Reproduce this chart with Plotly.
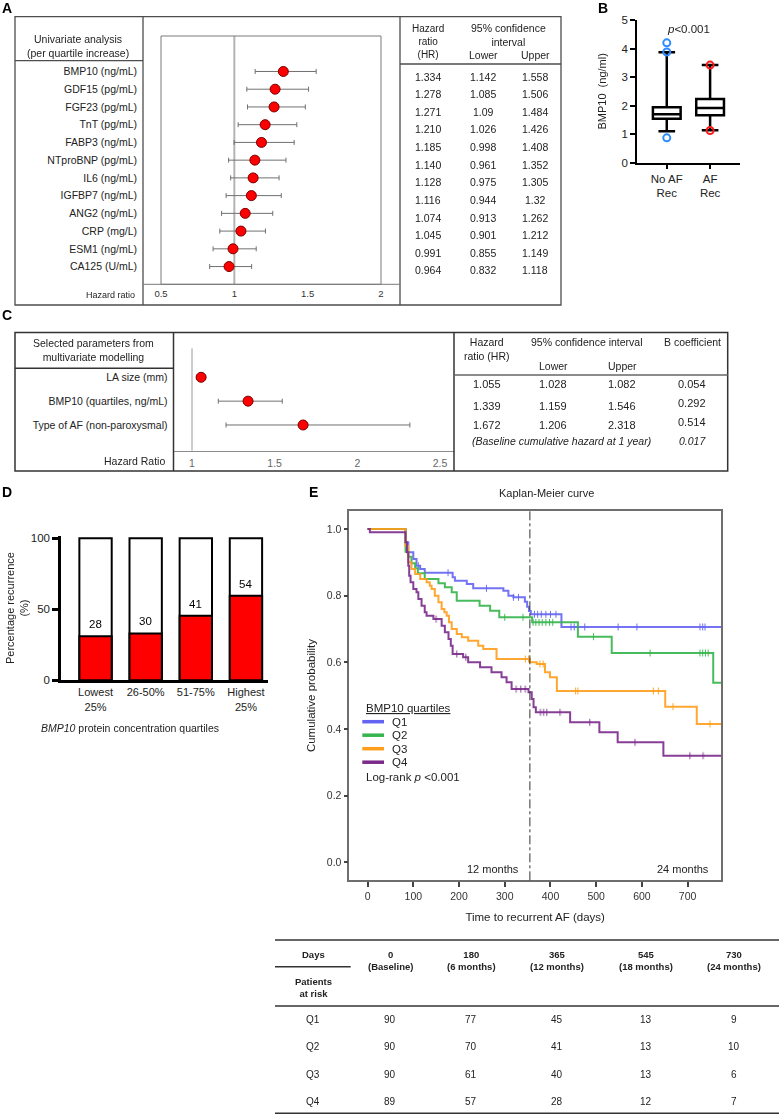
import plotly.graph_objects as go

# =============================================================================
# Data
# =============================================================================
# A: univariate analysis (per quartile increase)
uni_markers = ["BMP10 (ng/mL)", "GDF15 (pg/mL)", "FGF23 (pg/mL)", "TnT (pg/mL)",
               "FABP3 (ng/mL)", "NTproBNP (pg/mL)", "IL6 (ng/mL)", "IGFBP7 (ng/mL)",
               "ANG2 (ng/mL)", "CRP (mg/L)", "ESM1 (ng/mL)", "CA125 (U/mL)"]
uni_hr = ["1.334", "1.278", "1.271", "1.210", "1.185", "1.140",
          "1.128", "1.116", "1.074", "1.045", "0.991", "0.964"]
uni_lower = ["1.142", "1.085", "1.09", "1.026", "0.998", "0.961",
             "0.975", "0.944", "0.913", "0.901", "0.855", "0.832"]
uni_upper = ["1.558", "1.506", "1.484", "1.426", "1.408", "1.352",
             "1.305", "1.32", "1.262", "1.212", "1.149", "1.118"]
uni_ticks = [0.5, 1, 1.5, 2]

# B: BMP10 by AF recurrence (box summary)
box_groups = ["No AF<br>Rec", "AF<br>Rec"]
box_q1 = [1.54, 1.66]
box_median = [1.70, 1.92]
box_q3 = [1.94, 2.23]
box_low = [1.10, 1.14]
box_high = [3.87, 3.42]
outliers_no_rec = [4.20, 3.88, 0.87]
outliers_rec = [3.42, 1.13]

# C: multivariate model
multi_params = ["LA size (mm)", "BMP10 (quartiles, ng/mL)", "Type of AF (non-paroxysmal)"]
multi_hr = ["1.055", "1.339", "1.672"]
multi_lower = ["1.028", "1.159", "1.206"]
multi_upper = ["1.082", "1.546", "2.318"]
multi_b = ["0.054", "0.292", "0.514"]
baseline_hazard = "0.017"
multi_ticks = [1, 1.5, 2, 2.5]

# D: recurrence by BMP10 quartile
quartile_labels = ["Lowest<br>25%", "26-50%", "51-75%", "Highest<br>25%"]
recurrence_pct = [31, 33, 45.5, 59.5]
recurrence_n = [28, 30, 41, 54]

# E: Kaplan-Meier curves (step points, days / cumulative probability)
km_names = ["Q1", "Q2", "Q3", "Q4"]
km_colors = ["#6464f2", "#35b54c", "#ff9e1b", "#7a2a8b"]

q1_t = [0, 83, 89, 100, 107, 115, 125, 186, 191, 217, 231, 297, 308, 319, 344, 349, 353, 357, 424, 773]
q1_s = [1.0, 0.96, 0.93, 0.91, 0.89, 0.88, 0.869, 0.855, 0.845, 0.835, 0.822, 0.815, 0.80, 0.795,
        0.782, 0.767, 0.754, 0.744, 0.706, 0.706]
q2_t = [0, 83, 89, 96, 104, 110, 125, 155, 169, 184, 195, 245, 268, 288, 360, 460, 534, 756, 773]
q2_s = [1.0, 0.932, 0.917, 0.897, 0.882, 0.867, 0.85, 0.837, 0.825, 0.81, 0.785, 0.77, 0.755,
        0.735, 0.72, 0.677, 0.628, 0.539, 0.539]
q3_t = [0, 83, 89, 96, 104, 115, 129, 136, 140, 147, 155, 162, 168, 173, 178, 184, 195, 206, 220,
        242, 253, 282, 355, 370, 388, 399, 414, 651, 720, 773]
q3_s = [1.0, 0.95, 0.90, 0.88, 0.865, 0.85, 0.84, 0.83, 0.82, 0.80, 0.78, 0.76, 0.75, 0.74, 0.72,
        0.70, 0.685, 0.675, 0.665, 0.65, 0.64, 0.61, 0.60, 0.595, 0.57, 0.555, 0.514, 0.467, 0.415, 0.415]
q4_t = [0, 5, 83, 86, 89, 91, 94, 100, 107, 111, 118, 125, 129, 144, 162, 169, 177, 182, 186, 209,
        220, 246, 271, 293, 304, 315, 352, 359, 363, 368, 443, 507, 547, 647, 773]
q4_s = [1.0, 0.99, 0.96, 0.93, 0.89, 0.86, 0.84, 0.82, 0.81, 0.79, 0.77, 0.75, 0.74, 0.73, 0.71,
        0.69, 0.67, 0.65, 0.625, 0.615, 0.60, 0.585, 0.57, 0.555, 0.54, 0.52, 0.51, 0.49, 0.465,
        0.45, 0.42, 0.39, 0.36, 0.32, 0.32]

# censored observations
q1_ct = [111, 176, 260, 319, 330, 365, 372, 380, 390, 400, 412, 445, 452, 475, 548, 589, 727, 733, 738]
q1_cs = [0.89, 0.869, 0.822, 0.795, 0.795, 0.744, 0.744, 0.744, 0.744, 0.744, 0.744, 0.706, 0.706,
         0.706, 0.706, 0.706, 0.706, 0.706, 0.706]
q2_ct = [300, 340, 362, 368, 375, 382, 390, 398, 405, 494, 618, 727, 733, 739, 745]
q2_cs = [0.735, 0.735, 0.72, 0.72, 0.72, 0.72, 0.72, 0.72, 0.72, 0.677, 0.628, 0.628, 0.628, 0.628, 0.628]
q3_ct = [345, 352, 377, 384, 455, 460, 625, 636, 668, 749]
q3_cs = [0.61, 0.61, 0.595, 0.595, 0.514, 0.514, 0.514, 0.514, 0.467, 0.415]
q4_ct = [150, 195, 215, 325, 335, 345, 378, 385, 392, 421, 486, 585, 705, 734]
q4_cs = [0.73, 0.625, 0.615, 0.52, 0.52, 0.52, 0.45, 0.45, 0.45, 0.45, 0.42, 0.36, 0.32, 0.32]

km_ticks = [0, 100, 200, 300, 400, 500, 600, 700]
month_12_day = 355

# E: patients at risk
risk_days = ["0", "180", "365", "545", "730"]
risk_periods = ["(Baseline)", "(6 months)", "(12 months)", "(18 months)", "(24 months)"]
risk_q1 = [90, 77, 45, 13, 9]
risk_q2 = [90, 70, 41, 13, 10]
risk_q3 = [90, 61, 40, 13, 6]
risk_q4 = [89, 57, 28, 12, 7]

# =============================================================================
# Helpers (pixel positions -> paper coordinates)
# =============================================================================
FONT = "Liberation Sans, Arial, sans-serif"
W, H = 779, 1115


def px(x):
    return x / W


def py(y):
    return 1 - y / H


shapes = []
annotations = []


def line(x0, y0, x1, y1, color="#4d4d4d", width=1.3):
    shapes.append(dict(type="line", xref="paper", yref="paper",
                       x0=px(x0), y0=py(y0), x1=px(x1), y1=py(y1),
                       line=dict(color=color, width=width)))


def rect(x0, y0, x1, y1, color="#4d4d4d", width=1.3):
    shapes.append(dict(type="rect", xref="paper", yref="paper",
                       x0=px(x0), y0=py(y0), x1=px(x1), y1=py(y1),
                       line=dict(color=color, width=width)))


def label(x, y, text, size=10.5, anchor="center", color="#222", **kw):
    annotations.append(dict(xref="paper", yref="paper", x=px(x), y=py(y), text=text,
                            showarrow=False, xanchor=anchor, yanchor="middle",
                            align="left" if anchor == "left" else "center",
                            font=dict(family=FONT, size=size, color=color), **kw))


fig = go.Figure()

# =============================================================================
# Panel A: forest plot + table
# =============================================================================
hr_a = [float(v) for v in uni_hr]
lo_a = [float(v) for v in uni_lower]
hi_a = [float(v) for v in uni_upper]
rows_a = list(range(len(uni_markers)))

fig.add_trace(go.Scatter(
    x=hr_a, y=rows_a, mode="markers", xaxis="x", yaxis="y",
    marker=dict(size=10, color="#ff0000", line=dict(color="#7a0000", width=1)),
    error_x=dict(type="data", symmetric=False,
                 array=[h - v for v, h in zip(hr_a, hi_a)],
                 arrayminus=[v - l for v, l in zip(hr_a, lo_a)],
                 color="#707070", thickness=1, width=2.5),
))
shapes.append(dict(type="line", xref="x", yref="y domain", x0=1, x1=1, y0=0, y1=1,
                   line=dict(color="#b4b4b4", width=2), layer="below"))
shapes.append(dict(type="rect", xref="x domain", yref="y domain", x0=0, x1=1, y0=0, y1=1,
                   line=dict(color="#7a7a7a", width=1)))

rect(15, 16.7, 561, 305)
line(143, 16.7, 143, 305)
line(400, 16.7, 400, 305)
line(15, 60.7, 143, 60.7)
line(400, 64, 561, 64)
line(143, 284.3, 400, 284.3, color="#7a7a7a", width=1)

label(78, 45.5, "Univariate analysis<br>(per quartile increase)", size=10.5)
label(137, 295, "Hazard ratio", size=9, anchor="right")
label(428.3, 41.7, "Hazard<br>ratio<br>(HR)", size=10)
label(508.3, 35, "95% confidence<br>interval", size=10.5)
label(483.3, 55, "Lower", size=10.5)
label(535, 55, "Upper", size=10.5)
for i in rows_a:
    yy = 76.7 + i * 17.6
    label(428.3, yy, uni_hr[i], size=10.5)
    label(483.3, yy, uni_lower[i], size=10.5)
    label(535, yy, uni_upper[i], size=10.5)

# =============================================================================
# Panel B: box plot
# =============================================================================
fig.add_trace(go.Box(
    x=box_groups, q1=box_q1, median=box_median, q3=box_q3,
    lowerfence=box_low, upperfence=box_high, boxpoints=False,
    xaxis="x2", yaxis="y2", fillcolor="white",
    line=dict(color="black", width=2.5), whiskerwidth=0.6, width=0.64,
))
fig.add_trace(go.Scatter(
    x=[box_groups[0]] * len(outliers_no_rec), y=outliers_no_rec, mode="markers",
    xaxis="x2", yaxis="y2",
    marker=dict(symbol="circle-open", size=7, color="#2d8cff", line=dict(width=2)),
))
fig.add_trace(go.Scatter(
    x=[box_groups[1]] * len(outliers_rec), y=outliers_rec, mode="markers",
    xaxis="x2", yaxis="y2",
    marker=dict(symbol="circle-open", size=7, color="#ff1a1a", line=dict(width=2)),
))
label(688, 29, "<i>p</i>&lt;0.001", size=11.5)

# =============================================================================
# Panel C: multivariate forest plot + table
# =============================================================================
hr_c = [float(v) for v in multi_hr]
lo_c = [float(v) for v in multi_lower]
hi_c = [float(v) for v in multi_upper]
rows_c = list(range(len(multi_params)))

fig.add_trace(go.Scatter(
    x=hr_c, y=rows_c, mode="markers", xaxis="x3", yaxis="y3",
    marker=dict(size=10, color="#ff0000", line=dict(color="#7a0000", width=1)),
    error_x=dict(type="data", symmetric=False,
                 array=[h - v for v, h in zip(hr_c, hi_c)],
                 arrayminus=[v - l for v, l in zip(hr_c, lo_c)],
                 color="#707070", thickness=1, width=2.5),
))
shapes.append(dict(type="line", xref="x3", yref="y3 domain", x0=1, x1=1, y0=0, y1=1,
                   line=dict(color="#9a9a9a", width=1), layer="below"))

rect(15, 332.5, 727.7, 471, color="#333", width=1.5)
line(173.5, 332.5, 173.5, 471, color="#333", width=1.5)
line(454, 332.5, 454, 471, color="#333", width=1.5)
line(15, 368.3, 173.5, 368.3, color="#333", width=1.5)
line(454, 375, 727.7, 375, color="#666", width=1.5)

label(93.3, 349.7, "Selected parameters from<br>multivariate modelling", size=10.5)
label(166.7, 460.7, "Hazard Ratio", size=10.5, anchor="right")
label(486.7, 348.7, "Hazard<br>ratio (HR)", size=10.5)
label(587.3, 341.7, "95% confidence interval", size=10.5)
label(692.3, 341.7, "B coefficient", size=10.5)
label(553.3, 365.7, "Lower", size=10.5)
label(622.3, 365.7, "Upper", size=10.5)
row_y_c = [384.3, 406, 425]
b_y_c = [384.3, 403.3, 421.7]
for i in rows_c:
    label(486.7, row_y_c[i], multi_hr[i], size=11)
    label(553.3, row_y_c[i], multi_lower[i], size=11)
    label(622.3, row_y_c[i], multi_upper[i], size=11)
    label(692.3, b_y_c[i], multi_b[i], size=11)
label(561, 441, "<i>(Baseline cumulative hazard at 1 year)</i>", size=10.5)
label(692.3, 441, "<i>" + baseline_hazard + "</i>", size=10.5)

# =============================================================================
# Panel D: recurrence bars
# =============================================================================
fig.add_trace(go.Bar(
    x=quartile_labels, y=[100] * len(quartile_labels), xaxis="x4", yaxis="y4",
    marker=dict(color="white", line=dict(color="black", width=2)), width=0.645,
))
fig.add_trace(go.Bar(
    x=quartile_labels, y=recurrence_pct, xaxis="x4", yaxis="y4",
    marker=dict(color="#ff0000", line=dict(color="black", width=2)), width=0.645,
))
for q, p, n in zip(quartile_labels, recurrence_pct, recurrence_n):
    annotations.append(dict(xref="x4", yref="y4", x=q, y=p, text=str(n), showarrow=False,
                            yanchor="bottom", yshift=4,
                            font=dict(family=FONT, size=11.5, color="black")))
label(17, 608, "Percentage recurrence<br>(%)", size=11, textangle=-90)
label(130, 728, "<i>BMP10</i> protein concentration quartiles", size=10.5)

# =============================================================================
# Panel E: Kaplan-Meier curves
# =============================================================================
km_steps = [(q1_t, q1_s), (q2_t, q2_s), (q3_t, q3_s), (q4_t, q4_s)]
km_censor = [(q1_ct, q1_cs), (q2_ct, q2_cs), (q3_ct, q3_cs), (q4_ct, q4_cs)]
for name, color, (t, s), (ct, cs) in zip(km_names, km_colors, km_steps, km_censor):
    fig.add_trace(go.Scatter(
        x=t, y=s, mode="lines", name=name, xaxis="x5", yaxis="y5",
        line=dict(color=color, width=2, shape="hv"), opacity=0.9,
    ))
    fig.add_trace(go.Scatter(
        x=ct, y=cs, mode="markers", xaxis="x5", yaxis="y5", opacity=0.9,
        marker=dict(symbol="line-ns-open", size=5, color=color, line=dict(width=1, color=color)),
    ))
shapes.append(dict(type="line", xref="x5", yref="y5 domain", x0=month_12_day, x1=month_12_day,
                   y0=0, y1=1, line=dict(color="#333", width=1, dash="dashdot")))

label(546, 492.7, "Kaplan-Meier curve", size=11)
label(493.3, 869, "12 months", size=11)
label(683.3, 869, "24 months", size=11)

# legend
label(364.3, 707.7, "<u>BMP10 quartiles</u>", size=11.5, anchor="left")
for i, (name, color) in enumerate(zip(km_names, km_colors)):
    yy = 721.7 + i * 13.5
    line(362.3, yy, 384, yy, color=color, width=3.5)
    label(390, yy, name, size=11.5, anchor="left")
label(364.3, 776.7, "Log-rank <i>p</i> &lt;0.001", size=11.5, anchor="left")

# patients at risk table
line(275, 940, 779, 940, color="#333", width=1.5)
line(275, 966.7, 350.7, 966.7, color="#333", width=1.5)
line(275, 1006, 779, 1006, color="#333", width=1.5)
line(275, 1113.3, 779, 1113.3, color="#333", width=1.5)
risk_cols = [390, 471, 556.7, 645.7, 734.3]
label(313.3, 954, "<b>Days</b>", size=9.5)
label(313.3, 987, "<b>Patients<br>at risk</b>", size=9.5)
for x, d, p in zip(risk_cols, risk_days, risk_periods):
    label(x, 960, "<b>" + d + "<br>" + p + "</b>", size=9.5)
risk_rows = [risk_q1, risk_q2, risk_q3, risk_q4]
row_y_e = [1019.3, 1046.7, 1074, 1101]
for name, vals, yy in zip(km_names, risk_rows, row_y_e):
    label(313.3, yy, name, size=10)
    for x, v in zip(risk_cols, vals):
        label(x, yy, str(v), size=10)

# panel letters
for letter, x, y in [("A", 7.3, 7.5), ("B", 603, 8), ("C", 6.7, 315), ("D", 7, 491.7), ("E", 313.3, 491.7)]:
    label(x, y, "<b>" + letter + "</b>", size=14, color="black")

# =============================================================================
# Layout / axes
# =============================================================================
tick_font = dict(family=FONT, size=10.5, color="#333")
fig.update_layout(
    width=W, height=H, margin=dict(l=0, r=0, t=0, b=0, autoexpand=False),
    paper_bgcolor="white", plot_bgcolor="rgba(0,0,0,0)",
    showlegend=False, barmode="overlay", hovermode=False,
    font=dict(family=FONT, size=10.5, color="#222"),
    shapes=shapes, annotations=annotations,
    # A
    xaxis=dict(domain=[px(161), px(381)], range=[0.5, 2.0], anchor="y",
               tickvals=uni_ticks, ticktext=[f"{v:g}" for v in uni_ticks],
               showgrid=False, zeroline=False, showline=False, ticks="",
               tickfont=dict(family=FONT, size=9.5, color="#333"), ticklabelstandoff=2),
    yaxis=dict(domain=[py(284.3), py(36)], range=[12, -2], anchor="x",
               tickvals=rows_a, ticktext=uni_markers, showgrid=False, zeroline=False,
               showline=False, ticks="", ticklabelstandoff=23,
               tickfont=dict(family=FONT, size=10.5, color="#222")),
    # B
    xaxis2=dict(domain=[px(637.3), px(740)], range=[-0.68, 1.69], anchor="y2",
                type="category", showgrid=False, zeroline=False,
                showline=True, linecolor="black", linewidth=2,
                ticks="outside", ticklen=4, tickwidth=2, tickcolor="black",
                tickfont=dict(family=FONT, size=11.5, color="#222")),
    yaxis2=dict(domain=[py(162.7), py(20)], range=[0, 5], anchor="x2", dtick=1,
                showgrid=False, zeroline=False, showline=True, linecolor="black", linewidth=2,
                ticks="outside", ticklen=5, tickwidth=2, tickcolor="black",
                tickfont=dict(family=FONT, size=11.5, color="#222"),
                title=dict(text="BMP10  (ng/ml)", standoff=13,
                           font=dict(family=FONT, size=11, color="#222"))),
    # C
    xaxis3=dict(domain=[px(173.5), px(454)], range=[0.888, 2.585], anchor="y3",
                tickvals=multi_ticks, ticktext=[f"{v:g}" for v in multi_ticks],
                showgrid=False, zeroline=False, showline=True, linecolor="#8c8c8c",
                linewidth=1.3, ticks="", ticklabelstandoff=3,
                tickfont=dict(family=FONT, size=10.5, color="#666")),
    yaxis3=dict(domain=[py(450.7), py(348.3)], range=[3.078, -1.216], anchor="x3",
                tickvals=rows_c, ticktext=multi_params, showgrid=False, zeroline=False,
                showline=False, ticks="", ticklabelstandoff=5,
                tickfont=dict(family=FONT, size=10.5, color="#222")),
    # D
    xaxis4=dict(domain=[px(61), px(268)], range=[-0.689, 3.44], anchor="y4",
                type="category", showgrid=False, zeroline=False,
                showline=True, linecolor="black", linewidth=2.5, ticks="",
                tickfont=dict(family=FONT, size=11, color="#222")),
    yaxis4=dict(domain=[py(680.3), py(536.2)], range=[0, 101.5], anchor="x4",
                tickvals=[0, 50, 100], showgrid=False, zeroline=False,
                showline=True, linecolor="black", linewidth=2.5,
                ticks="outside", ticklen=6, tickwidth=2.5, tickcolor="black",
                tickfont=dict(family=FONT, size=11.5, color="#222")),
    # E
    xaxis5=dict(domain=[px(349.3), px(721)], range=[-40, 773], anchor="y5",
                tickvals=km_ticks, showgrid=False, zeroline=False,
                showline=True, mirror=True, linecolor="#6e6e6e", linewidth=1.5,
                ticks="outside", ticklen=5, tickwidth=1.5, tickcolor="#444",
                tickfont=tick_font,
                title=dict(text="Time to recurrent AF (days)", standoff=12,
                           font=dict(family=FONT, size=11.5, color="#222"))),
    yaxis5=dict(domain=[py(880.3), py(510.7)], range=[-0.054, 1.055], anchor="x5",
                tickvals=[0, 0.2, 0.4, 0.6, 0.8, 1.0], tickformat=".1f",
                showgrid=False, zeroline=False,
                showline=True, mirror=True, linecolor="#6e6e6e", linewidth=1.5,
                ticks="outside", ticklen=4, tickwidth=1.5, tickcolor="#444",
                tickfont=tick_font,
                title=dict(text="Cumulative probability", standoff=9,
                           font=dict(family=FONT, size=11.5, color="#222"))),
)

# the page body has a default 8px margin; drop it so the figure fills the window
fig.write_html("out.html", config={"displayModeBar": False},
               post_script="document.body.style.margin = '0px';")
